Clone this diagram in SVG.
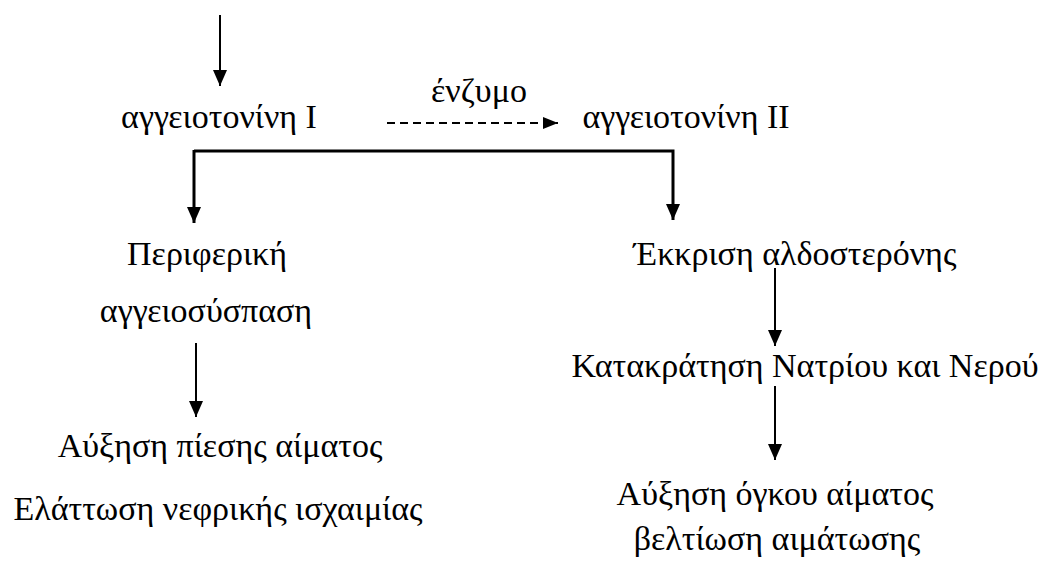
<svg xmlns="http://www.w3.org/2000/svg" width="1053" height="571" viewBox="0 0 1053 571">
<style>
text{font-family:"Liberation Serif","Times New Roman",serif;font-size:34px;fill:#000;text-anchor:middle}
.ln{stroke:#000;stroke-width:2;fill:none}
.br{stroke:#000;stroke-width:3;fill:none}
.ds{stroke:#000;stroke-width:2;fill:none;stroke-dasharray:8 5}
</style>
<defs>
<marker id="ah" markerUnits="userSpaceOnUse" markerWidth="16" markerHeight="16" viewBox="0 0 16 14" refX="16" refY="7" orient="auto">
<path d="M0,0 L16,7 L0,14 Z" fill="#000"/>
</marker>
<marker id="ahs" markerUnits="userSpaceOnUse" markerWidth="15" markerHeight="12" viewBox="0 0 15 12" refX="15" refY="6" orient="auto">
<path d="M0,0 L15,6 L0,12 Z" fill="#000"/>
</marker>
</defs>
<g id="connectors">
<line class="ln" x1="220" y1="15" x2="220" y2="86" marker-end="url(#ah)"/>
<line class="ds" x1="387" y1="123" x2="558" y2="123" marker-end="url(#ahs)"/>
<polyline class="br" points="194,151 673,151 673,220" marker-end="url(#ah)"/>
<line class="br" x1="194" y1="150" x2="194" y2="223" marker-end="url(#ah)"/>
<line class="ln" x1="196" y1="343" x2="196" y2="417" marker-end="url(#ah)"/>
<line class="ln" x1="775" y1="268" x2="775" y2="346" marker-end="url(#ah)"/>
<line class="ln" x1="775" y1="386" x2="775" y2="460" marker-end="url(#ah)"/>
</g>
<g id="angiotensin1"><text x="219" y="128">αγγειοτονίνη I</text></g>
<g id="enzyme"><text x="479" y="102">ένζυμο</text></g>
<g id="angiotensin2"><text x="686" y="128">αγγειοτονίνη II</text></g>
<g id="vasoconstriction"><text x="207" y="265">Περιφερική</text><text x="206" y="322">αγγειοσύσπαση</text></g>
<g id="bp-increase"><text x="220" y="457">Αύξηση πίεσης αίματος</text><text x="218" y="520">Ελάττωση νεφρικής ισχαιμίας</text></g>
<g id="aldosterone"><text x="795" y="265">Έκκριση αλδοστερόνης</text></g>
<g id="retention"><text x="805" y="377">Κατακράτηση Νατρίου και Νερού</text></g>
<g id="volume"><text x="775" y="505">Αύξηση όγκου αίματος</text><text x="777" y="550">βελτίωση αιμάτωσης</text></g>
</svg>
